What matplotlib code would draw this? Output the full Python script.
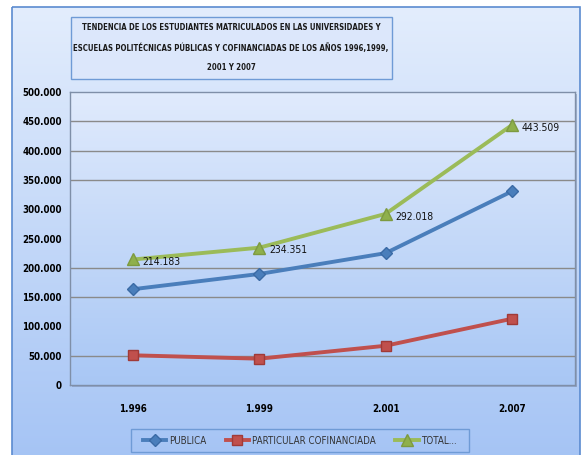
import numpy as np
import matplotlib.pyplot as plt
from matplotlib import font_manager as fm
from matplotlib.patches import Rectangle
from matplotlib.ticker import FuncFormatter

# Datos
anios = ["1.996", "1.999", "2.001", "2.007"]
publica = [163500, 189500, 225000, 330500]
particular = [50700, 44900, 67000, 113000]
total = [214183, 234351, 292018, 443509]
etiquetas_total = ["214.183", "234.351", "292.018", "443.509"]
grid_vals = [50000, 150000, 200000, 350000, 400000, 450000]

titulo = ("TENDENCIA DE LOS ESTUDIANTES MATRICULADOS EN LAS UNIVERSIDADES Y\n"
          "ESCUELAS POLITÉCNICAS PÚBLICAS Y COFINANCIADAS DE LOS AÑOS 1996,1999,\n"
          "2001 Y 2007")

# busca una fuente estrecha (parecida a Calibri)
fuentes = {(f.name, f.stretch) for f in fm.fontManager.ttflist}
if any(n == "Liberation Sans Narrow" for n, s in fuentes):
    fuente, estira, tam_tit = "Liberation Sans Narrow", "normal", 7.0
elif ("DejaVu Sans", "condensed") in fuentes:
    fuente, estira, tam_tit = "DejaVu Sans", "condensed", 5.6
else:
    fuente, estira, tam_tit = "Roboto", "normal", 5.4

W, H = 586, 455
fig = plt.figure(figsize=(W / 100, H / 100), dpi=100)

# Fondo general del grafico (degradado)
bg = fig.add_axes([0, 0, 1, 1])
bg.set_xlim(0, W)
bg.set_ylim(H, 0)
bg.axis("off")
grad = np.linspace(0, 1, 256).reshape(-1, 1)
top_c = np.array([0.89, 0.93, 0.99])
bot_c = np.array([0.65, 0.77, 0.96])
bg.imshow(top_c + (bot_c - top_c) * grad[..., None], extent=(12, 580, H, 7),
          aspect="auto", zorder=0)
bg.add_patch(Rectangle((12, 7), 568, H, fill=False, ec="#5b8bd0", lw=1.2, zorder=1))

# Caja del titulo
bg.add_patch(Rectangle((71, 17), 321, 62, fc="#dce7fb", ec="#6f9bd6", lw=1.0, zorder=2))
bg.text(231, 47.5, titulo, ha="center", va="center", fontsize=tam_tit, fontweight="bold",
        family=fuente, fontstretch=estira, linespacing=2.35, color="#1a1a1a", zorder=3)

# sombra del area de trazado y marco de la leyenda
L, R, T, B = 70, 575, 92, 385
bg.add_patch(Rectangle((L + 2, T + 2), R - L, B - T, fc="#7d8fb0", ec="none", alpha=0.6, zorder=1))
bg.add_patch(Rectangle((131, 429), 338, 23, fill=False, ec="#6f9bd6", lw=1.0, zorder=2))

# Area de trazado
ax = fig.add_axes([L / W, (H - B) / H, (R - L) / W, (B - T) / H])
ax.set_facecolor("none")
c1, c2 = np.array([0.88, 0.92, 0.99]), np.array([0.66, 0.78, 0.96])
ax.imshow(c1 + (c2 - c1) * grad[..., None], extent=(0, 1, 0, 1),
          transform=ax.transAxes, aspect="auto", zorder=0)

x = np.arange(len(anios))
ax.set_xlim(-0.5, 3.5)
ax.set_ylim(0, 500000)

for g in grid_vals:
    ax.axhline(g, color="#8a8a8a", lw=1.0, zorder=1)

ax.plot(x, publica, color="#4a7ebb", lw=2.8, marker="D", ms=6.5, mfc="#4a7ebb",
        mec="#3a6aa5", label="PUBLICA", zorder=4)
ax.plot(x, particular, color="#c0504d", lw=2.8, marker="s", ms=7.5, mfc="#c0504d",
        mec="#a03a38", label="PARTICULAR COFINANCIADA", zorder=4)
ax.plot(x, total, color="#9bbb59", lw=2.8, marker="^", ms=8, mfc="#8fb04c",
        mec="#7d9a40", label="TOTAL...", zorder=4)

for xi, yi, lab in zip(x, total, etiquetas_total):
    ax.annotate(lab, (xi, yi), xytext=(7, -2), textcoords="offset points",
                ha="left", va="center", fontsize=7.5, family=fuente, fontstretch=estira,
                color="#111111", zorder=5)

ax.set_xticks(x)
ax.set_xticklabels(anios)
ax.set_yticks(np.arange(0, 500001, 50000))
ax.yaxis.set_major_formatter(FuncFormatter(lambda v, p: "0" if v == 0 else f"{int(v):,}".replace(",", ".")))
ax.tick_params(length=0, labelsize=7, pad=6)
ax.tick_params(axis="x", pad=14)
for lab in ax.get_xticklabels() + ax.get_yticklabels():
    lab.set_fontweight("bold")
    lab.set_family(fuente)
    lab.set_fontstretch(estira)
for s in ax.spines.values():
    s.set_color("#7f8fa8")
    s.set_linewidth(1.0)

leg = fig.legend(loc="center", bbox_to_anchor=(300 / W, (H - 440.5) / H), ncol=3,
                 frameon=False, prop={"family": fuente, "size": 7, "stretch": estira},
                 handlelength=2.4, columnspacing=2.0, handletextpad=0.3)
for t in leg.get_texts():
    t.set_color("#333333")

fig.savefig("out.png", dpi=100)
